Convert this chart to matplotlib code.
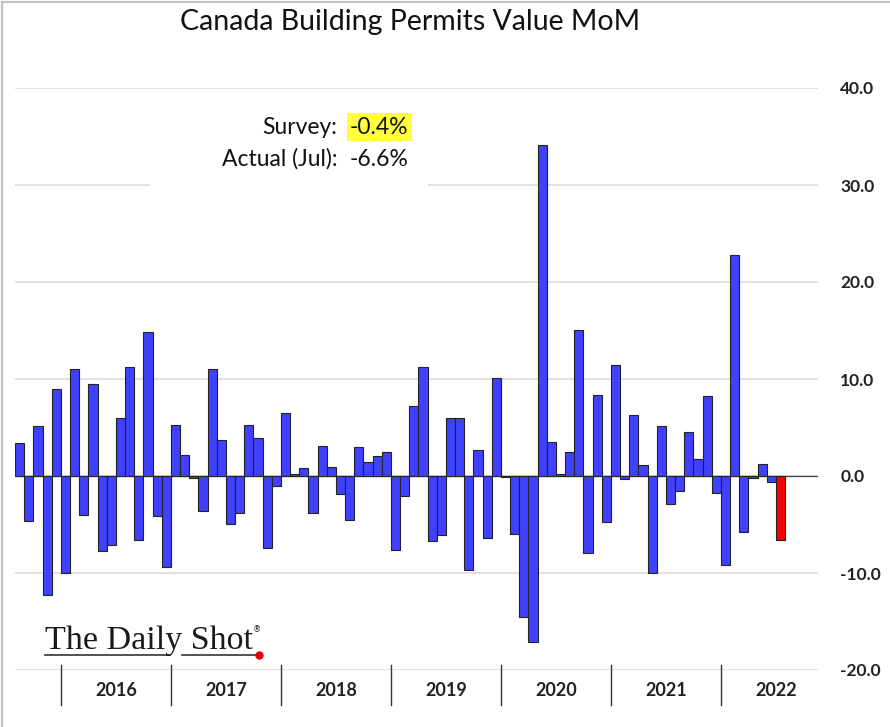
import matplotlib.pyplot as plt
import matplotlib.transforms as mtransforms
from matplotlib.patches import Rectangle
from matplotlib.lines import Line2D

# Monthly change, %, Aug 2015 .. Jul 2022
values_2015 = [3.4, -4.6, 5.2, -12.3, 9.0]
values_2016 = [-10.0, 11.0, -4.0, 9.5, -7.7, -7.1, 6.0, 11.2, -6.6, 14.8, -4.1, -9.4]
values_2017 = [5.3, 2.2, -0.2, -3.6, 11.0, 3.7, -4.9, -3.8, 5.3, 3.9, -7.4, -1.0]
values_2018 = [6.5, 0.2, 0.8, -3.8, 3.1, 0.9, -1.9, -4.5, 3.0, 1.4, 2.1, 2.5]
values_2019 = [-7.6, -2.1, 7.2, 11.2, -6.7, -6.1, 6.0, 6.0, -9.7, 2.7, -6.4, 10.1]
values_2020 = [-0.1, -6.0, -14.5, -17.1, 34.1, 3.5, 0.25, 2.5, 15.1, -7.9, 8.4, -4.7]
values_2021 = [11.4, -0.3, 6.3, 1.1, -10.0, 5.2, -2.9, -1.5, 4.5, 1.8, 8.2, -1.8]
values_2022 = [-9.2, 22.8, -5.8, -0.2, 1.2, -0.6, -6.6]

years = ["2016", "2017", "2018", "2019", "2020", "2021", "2022"]
yticks = [-20, -10, 0, 10, 20, 30, 40]
survey = "-0.4%"
actual = "-6.6%"

values = (values_2015 + values_2016 + values_2017 + values_2018 + values_2019
          + values_2020 + values_2021 + values_2022)
n_before = len(values_2015)
x = list(range(len(values)))
colors = ["#4040ff"] * (len(values) - 1) + ["#ff0000"]

W, H = 890, 727
fig = plt.figure(figsize=(W / 100, H / 100), dpi=100)
ax = fig.add_axes([15 / W, 1 - 670 / H, (818 - 15) / W, (670 - 88) / H])

ax.bar(x, values, width=1.0, color=colors, edgecolor="#222222", linewidth=0.8, zorder=3)
ax.axhline(0, color="#444444", lw=0.9, zorder=2.5)

ax.set_xlim(-0.5, 87.1)
ax.set_ylim(-20, 40)
ax.set_yticks(yticks)
ax.yaxis.tick_right()
ax.yaxis.set_major_formatter(plt.FormatStrFormatter("%.1f"))
ax.tick_params(axis="y", length=0, pad=16, labelsize=12.5)
for lab in ax.get_yticklabels():
    lab.set_fontfamily(["Lato", "DejaVu Sans"])
    lab.set_fontweight("bold")
    lab.set_color("#222222")
ax.set_xticks([])
ax.grid(axis="y", color="#d9d9d9", lw=1.1)
ax.set_axisbelow(True)
for s in ax.spines.values():
    s.set_visible(False)

# year separators and labels
trans = mtransforms.blended_transform_factory(ax.transData, ax.transAxes)
for i, yr in enumerate(years):
    start = n_before - 0.5 + 12 * i
    ax.add_line(Line2D([start, start], [0.009, -0.060], transform=trans,
                       color="#333333", lw=1.0, clip_on=False))
    ax.text(start + 6, -0.036, yr, transform=trans, ha="center", va="center",
            fontsize=13, fontweight="bold", family=["Lato", "DejaVu Sans"],
            color="#222222")

# title
fig.text(410 / W, 1 - 22 / H, "Canada Building Permits Value MoM", ha="center",
         va="center", fontsize=20.5, family=["Lato", "DejaVu Sans"], color="#111111")

# annotation box
ax.add_patch(Rectangle((150 / W, 1 - 192 / H), 278 / W, 87 / H,
                       transform=fig.transFigure, facecolor="white",
                       edgecolor="none", zorder=1))
tfont = dict(fontsize=16.5, family=["Lato", "DejaVu Sans"], color="#111111", va="center")
fig.text(337 / W, 1 - 127 / H, "Survey:", ha="right", **tfont)
fig.text(350 / W, 1 - 127 / H, survey, ha="left",
         bbox=dict(facecolor="#ffff40", edgecolor="none", pad=2.5), **tfont)
fig.text(337 / W, 1 - 159 / H, "Actual (Jul):", ha="right", **tfont)
fig.text(350 / W, 1 - 159 / H, actual, ha="left", **tfont)

# logo
fig.text(45 / W, 1 - 649 / H, "The Daily Shot", ha="left", va="baseline",
         fontsize=24.5, family="Liberation Serif", color="#1a1a1a")
fig.text(253 / W, 1 - 630 / H, "®", ha="left", va="center", fontsize=6,
         family="DejaVu Sans", color="#1a1a1a")
fig.add_artist(Line2D([45 / W, 170 / W], [1 - 655 / H] * 2, color="#333333", lw=1.2))
fig.add_artist(Line2D([182 / W, 258 / W], [1 - 655 / H] * 2, color="#333333", lw=1.2))
fig.add_artist(Line2D([259 / W], [1 - 655 / H], marker="o", color="#e00000",
                      markersize=5, lw=0))

# frame on left and top edge
fig.add_artist(Line2D([2 / W, 2 / W], [0, 1 - 2 / H], color="#c0c0c0", lw=1.5))
fig.add_artist(Line2D([2 / W, 1], [1 - 2 / H] * 2, color="#c0c0c0", lw=1.5))

fig.savefig("out.png", dpi=100)
